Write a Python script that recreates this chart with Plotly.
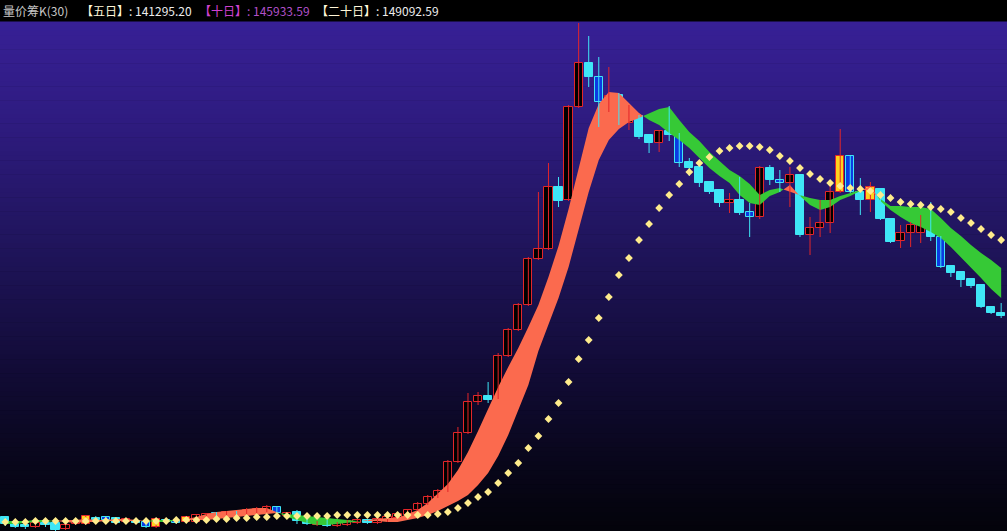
import plotly.graph_objects as go

# ---------------- data (chart units, hidden axis) ----------------
candle_type = [
    "c", "c", "c", "r", "c", "c", "r", "r", "y", "c",
    "b", "c", "r", "c", "b", "y", "c", "b", "y", "r",
    "r", "b", "r", "b", "r", "r", "r", "b", "r", "c",
    "c", "r", "c", "r", "r", "r", "c", "r", "r", "r",
    "r", "r", "r", "r", "r", "r", "r", "r", "c", "r",
    "r", "r", "r", "r", "r", "c", "r", "r", "c", "b",
    "r", "c", "r", "c", "c", "r", "c", "b", "c", "c",
    "c", "c", "r", "c", "b", "r", "c", "b", "r", "c",
    "r", "r", "r", "y", "b", "c", "y", "c", "c", "r",
    "r", "r", "c", "b", "c", "c", "c", "c", "c", "c",
]
open_ = [
    14, 9, 6, 4, 8, 8, 2, 7, 7, 13,
    14, 13, 9, 10, 9, 4, 11, 10, 9, 9,
    13, 18, 14, 19, 17, 18, 20, 24, 15, 19,
    10, 6, 10, 5, 6, 8, 11, 8, 10, 13,
    16, 21, 27, 34, 40, 69, 98, 129, 135, 133,
    175, 201, 226, 272, 282, 344, 331, 424, 468, 454,
    429, 436, 408, 415, 396, 388, 400, 397, 369, 364,
    349, 341, 328, 331, 319, 314, 363, 351, 348, 356,
    296, 303, 308, 339, 375, 339, 331, 342, 312, 290,
    298, 298, 308, 294, 265, 259, 252, 246, 224, 218,
]
close = [
    7, 4, 4, 8, 6, 1, 6, 9, 15, 11,
    11, 8, 12, 8, 4, 12, 9, 8, 14, 16,
    17, 14, 19, 16, 21, 22, 24, 18, 18, 10,
    7, 9, 5, 8, 10, 11, 8, 12, 14, 17,
    21, 27, 34, 40, 69, 98, 129, 135, 131, 175,
    201, 226, 272, 282, 344, 330, 424, 468, 454, 429,
    435, 408, 414, 394, 388, 400, 396, 368, 363, 348,
    339, 328, 331, 318, 314, 363, 351, 348, 356, 296,
    303, 308, 339, 375, 339, 331, 344, 312, 289, 298,
    306, 308, 294, 264, 258, 251, 245, 224, 218, 215,
]
high = [
    15, 11, 9, 10, 10, 9, 8, 11, 16, 15,
    15, 14, 13, 11, 10, 13, 12, 11, 15, 17,
    18, 19, 20, 20, 23, 24, 26, 25, 19, 21,
    15, 10, 11, 9, 11, 12, 12, 13, 15, 18,
    22, 29, 36, 42, 71, 104, 138, 139, 149, 178,
    203, 228, 274, 339, 368, 354, 426, 508, 495, 474,
    464, 438, 426, 416, 397, 401, 425, 398, 373, 365,
    350, 342, 338, 354, 328, 365, 366, 361, 364, 357,
    314, 331, 346, 402, 376, 353, 349, 343, 313, 306,
    309, 316, 329, 295, 266, 260, 253, 247, 225, 228,
]
low = [
    5, 3, 2, 3, 4, 0, 1, 6, 6, 9,
    10, 7, 8, 7, 3, 3, 8, 7, 8, 8,
    12, 13, 13, 15, 16, 17, 19, 17, 14, 7,
    6, 5, 4, 4, 5, 7, 7, 7, 9, 12,
    15, 20, 26, 33, 39, 68, 97, 126, 128, 132,
    174, 200, 225, 271, 281, 324, 330, 423, 444, 404,
    419, 406, 401, 392, 378, 379, 390, 364, 355, 344,
    337, 324, 318, 316, 294, 312, 346, 339, 324, 294,
    276, 294, 298, 338, 338, 316, 319, 311, 288, 283,
    284, 288, 290, 263, 254, 244, 243, 223, 217, 213,
]
ma5 = [
    7, 7, 8, 9, 9, 10, 11, 11, 12, 11,
    11, 12, 12, 11, 10, 9, 9, 10, 12, 14,
    17, 19, 20, 21, 22, 23, 23, 19, 14, 11,
    8, 6, 6, 7, 8, 9, 11, 12, 13, 13,
    17, 21, 28, 37, 47, 61, 79, 100, 122, 144,
    164, 183, 204, 226, 254, 285, 322, 363, 403, 427,
    439, 438, 428, 418, 411, 406, 398, 391, 383, 373,
    363, 355, 348, 336, 328, 326, 335, 339, 346, 335,
    326, 321, 324, 331, 335, 340, 345, 330, 321, 314,
    308, 304, 299, 293, 284, 274, 263, 253, 242, 233,
]
ma10 = [
    10, 10, 10, 11, 11, 10, 9, 8, 9, 9,
    10, 10, 10, 10, 10, 11, 11, 11, 11, 11,
    11, 12, 13, 14, 15, 16, 17, 18, 17, 16,
    15, 14, 13, 12, 11, 10, 10, 10, 9, 9,
    11, 13, 16, 20, 25, 30, 36, 46, 58, 75,
    96, 120, 146, 180, 207, 233, 264, 302, 339, 371,
    391, 402, 409, 413, 418, 422, 424, 411, 399, 390,
    379, 370, 361, 355, 347, 336, 341, 343, 339, 336,
    333, 331, 331, 335, 338, 341, 341, 332, 325, 325,
    324, 324, 322, 313, 303, 295, 286, 278, 271, 263,
]
ma20 = [
    9, 9, 9, 10, 10, 10, 10, 10, 10, 10,
    10, 10, 10, 10, 10, 10, 10, 11, 11, 11,
    11, 12, 12, 13, 13, 14, 14, 15, 15, 15,
    15, 15, 15, 16, 16, 16, 16, 16, 16, 16,
    16, 16, 16, 17, 19, 23, 28, 34, 39, 48,
    58, 68, 83, 95, 112, 128, 149, 172, 191, 213,
    234, 256, 273, 291, 307, 323, 336, 347, 359, 368,
    374, 380, 383, 385, 385, 384, 381, 375, 370, 363,
    357, 352, 348, 345, 343, 342, 340, 336, 333, 329,
    327, 326, 324, 322, 319, 313, 308, 302, 296, 291,
]
header_title = "量价筹K(30)"
header_labels = ["【五日】", "【十日】", "【二十日】"]
header_values = ["141295.20", "145933.59", "149092.59"]

# ---------------- styling ----------------
W, H, TOP = 1007, 531, 22
PLOT_H = H - TOP
N = len(close)
idx = list(range(N))

RED = "#e3262a"
CYAN = "#3fe6f6"
BLUE = "#0b3be2"
YELLOW = "#ffd21e"
BAND_UP = "#fb6a4e"
BAND_DN = "#36c936"
DOT = "#ffec8c"

fig = go.Figure()

# background gradient (plot area)
stops = [(0.0, (55, 32, 150)), (0.2, (46, 27, 127)), (0.45, (31, 20, 90)),
         (0.7, (17, 11, 52)), (0.87, (8, 6, 26)), (1.0, (3, 3, 10))]


def grad(t):
    for (t0, c0), (t1, c1) in zip(stops[:-1], stops[1:]):
        if t0 <= t <= t1:
            f = (t - t0) / (t1 - t0)
            return "rgb(%d,%d,%d)" % tuple(round(a + (b - a) * f) for a, b in zip(c0, c1))
    return "rgb(%d,%d,%d)" % stops[-1][1]


shapes = []
NS = 110
for i in range(NS):
    shapes.append(dict(type="rect", xref="paper", yref="paper", x0=0, x1=1,
                       y0=1 - (i + 1) / NS, y1=1 - i / NS + 0.001,
                       fillcolor=grad((i + 0.5) / NS), line=dict(width=0), layer="below"))

# MA5 / MA10 ribbon, red where MA5 above MA10, green otherwise
segments = []
cur_x, cur_a, cur_b = [], [], []
prev_sign = None
for i in idx:
    d = ma5[i] - ma10[i]
    s = prev_sign if d == 0 and prev_sign is not None else (1 if d > 0 else -1)
    if prev_sign is not None and s != prev_sign:
        d0 = ma5[i - 1] - ma10[i - 1]
        t = d0 / (d0 - d)
        xc = i - 1 + t
        yc = ma5[i - 1] + t * (ma5[i] - ma5[i - 1])
        cur_x.append(xc); cur_a.append(yc); cur_b.append(yc)
        segments.append((prev_sign, cur_x, cur_a, cur_b))
        cur_x, cur_a, cur_b = [xc], [yc], [yc]
    cur_x.append(i); cur_a.append(ma5[i]); cur_b.append(ma10[i])
    prev_sign = s
segments.append((prev_sign, cur_x, cur_a, cur_b))

for sign, xs, a, b in segments:
    fig.add_trace(go.Scatter(x=xs + xs[::-1], y=a + b[::-1], mode="lines",
                             fill="toself", fillcolor=BAND_UP if sign > 0 else BAND_DN,
                             line=dict(width=0, color=BAND_UP if sign > 0 else BAND_DN),
                             hoverinfo="skip", showlegend=False))

# wicks
for group, col in ((("r", "y"), RED), (("c", "b"), CYAN)):
    wx, wy = [], []
    for i in idx:
        if candle_type[i] in group:
            wx += [i, i, None]
            wy += [low[i], high[i], None]
    fig.add_trace(go.Scatter(x=wx, y=wy, mode="lines", line=dict(color=col, width=1),
                             hoverinfo="skip", showlegend=False))

# bodies
body_style = {
    "r": ("#000000", RED),
    "c": (CYAN, CYAN),
    "b": (BLUE, CYAN),
    "y": (YELLOW, RED),
}
for code, (fill, edge) in body_style.items():
    bx, bh, bb = [], [], []
    for i in idx:
        if candle_type[i] == code:
            lo_b = min(open_[i], close[i])
            hi_b = max(open_[i], close[i])
            bx.append(i)
            bb.append(lo_b)
            bh.append(max(hi_b - lo_b, 1.2))
    fig.add_trace(go.Bar(x=bx, y=bh, base=bb, width=0.82,
                         marker=dict(color=fill, line=dict(color=edge, width=1)),
                         hoverinfo="skip", showlegend=False))

# MA20 dotted diamonds
fig.add_trace(go.Scatter(x=idx, y=ma20, mode="markers",
                         marker=dict(symbol="diamond", size=6, color=DOT, line=dict(width=0)),
                         hoverinfo="skip", showlegend=False))

# header texts
hy = 1 + 11.5 / PLOT_H
font = "Noto Sans CJK SC"
ann = [
    dict(x=1 / W, text=header_title, color="#c8c8c8"),
    dict(x=79 / W, text="<span style='color:#fff6d8'>%s</span>: %s" % (header_labels[0], header_values[0]),
         color="#ececec"),
    dict(x=197 / W, text="<span style='color:#d040d0'>%s</span>: %s" % (header_labels[1], header_values[1]),
         color="#b050c8"),
    dict(x=314 / W, text="<span style='color:#fff6d8'>%s</span>: %s" % (header_labels[2], header_values[2]),
         color="#ececec"),
]
annotations = [dict(x=a["x"], y=hy, xref="paper", yref="paper", xanchor="left", yanchor="middle",
                    showarrow=False, text=a["text"], font=dict(family=font, size=12, color=a["color"]))
               for a in ann]

fig.update_layout(
    width=W, height=H,
    margin=dict(l=0, r=0, t=TOP, b=0, pad=0),
    paper_bgcolor="#000000", plot_bgcolor="#05040f",
    barmode="overlay", bargap=0,
    showlegend=False,
    shapes=shapes,
    annotations=annotations,
    xaxis=dict(range=[-0.52, 99.58], visible=False, showgrid=False, zeroline=False, fixedrange=True),
    yaxis=dict(range=[0, PLOT_H], visible=False, showgrid=False, zeroline=False, fixedrange=True),
)

fig.write_html("out.html", config={"displayModeBar": False})
with open("out.html", encoding="utf-8") as f:
    html = f.read()
html = html.replace("<body>", "<body style=\"margin:0;background:#000;overflow:hidden\">", 1)
with open("out.html", "w", encoding="utf-8") as f:
    f.write(html)
